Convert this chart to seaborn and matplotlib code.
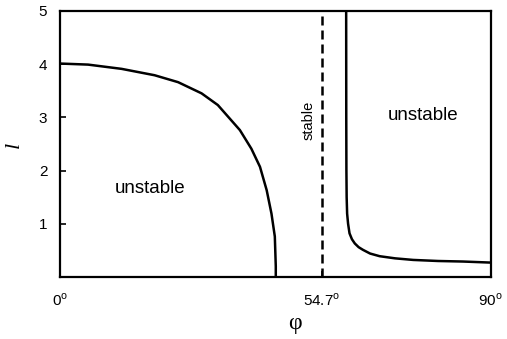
import matplotlib
matplotlib.use("Agg")
import matplotlib.pyplot as plt
import seaborn as sns

# left boundary (phi in degrees, l)
left_phi = [0, 5.9, 12.9, 19.8, 24.7, 29.6, 33.0, 37.6, 40.0, 41.8, 43.2, 44.2, 44.9, 45.1, 45.1]
left_l = [4.01, 3.99, 3.91, 3.79, 3.66, 3.45, 3.23, 2.76, 2.41, 2.07, 1.63, 1.19, 0.76, 0.2, 0.0]

# right boundary
right_phi = [59.8, 59.82, 59.85, 59.9, 60.0, 60.2, 60.5, 61.0, 61.6, 62.4, 63.3, 64.8, 66.8, 70.0, 73.8, 79.0, 84.2, 90.0]
right_l = [5.0, 3.0, 2.0, 1.5, 1.19, 1.0, 0.82, 0.71, 0.63, 0.56, 0.51, 0.44, 0.39, 0.35, 0.32, 0.30, 0.29, 0.27]

magic_angle = 54.7
x_ticks = [0, 54.7, 90]
x_ticklabels = ["0$^\\mathrm{o}$", "54.7$^\\mathrm{o}$", "90$^\\mathrm{o}$"]
y_ticks = [1, 2, 3, 4, 5]

sns.set_style("ticks", {"axes.edgecolor": "black", "xtick.color": "black",
                        "ytick.color": "black", "text.color": "black",
                        "axes.labelcolor": "black"})
plt.rcParams["font.family"] = ["Liberation Sans", "DejaVu Sans"]
plt.rcParams["mathtext.fontset"] = "custom"
plt.rcParams["mathtext.rm"] = "Liberation Sans"

fig, ax = plt.subplots(figsize=(5.07, 3.39), dpi=100)
fig.subplots_adjust(left=0.118, right=0.968, top=0.968, bottom=0.183)

sns.lineplot(x=left_phi, y=left_l, sort=False, estimator=None, color="black", lw=1.8, ax=ax)
sns.lineplot(x=right_phi, y=right_l, sort=False, estimator=None, color="black", lw=1.8, ax=ax)
ax.axvline(magic_angle, color="black", lw=1.8, ls=(0, (3.6, 2)))

ax.set_xlim(0, 90)
ax.set_ylim(0, 5)
ax.set_xticks(x_ticks)
ax.set_xticklabels(x_ticklabels, fontsize=11)
ax.set_yticks(y_ticks)
ax.set_yticklabels([str(v) for v in y_ticks], fontsize=11)
ax.tick_params(direction="in", length=4, width=1.2)
ax.tick_params(axis="y", pad=9)
ax.tick_params(axis="x", pad=11)

for s in ax.spines.values():
    s.set_linewidth(1.6)
    s.set_visible(True)

ax.set_xlabel("φ", fontsize=17, family="Liberation Serif")
ax.xaxis.set_label_coords(0.545, -0.135)
ax.set_ylabel("l", fontsize=16, family="Liberation Serif", style="italic")
ax.yaxis.set_label_coords(-0.084, 0.496)

ax.text(18.8, 1.66, "unstable", fontsize=13.5, ha="center", va="center")
ax.text(75.8, 3.04, "unstable", fontsize=13.5, ha="center", va="center")
ax.text(51.9, 2.95, "stable", fontsize=10.5, ha="center", va="center", rotation=90)

fig.savefig("out.png", dpi=100)
